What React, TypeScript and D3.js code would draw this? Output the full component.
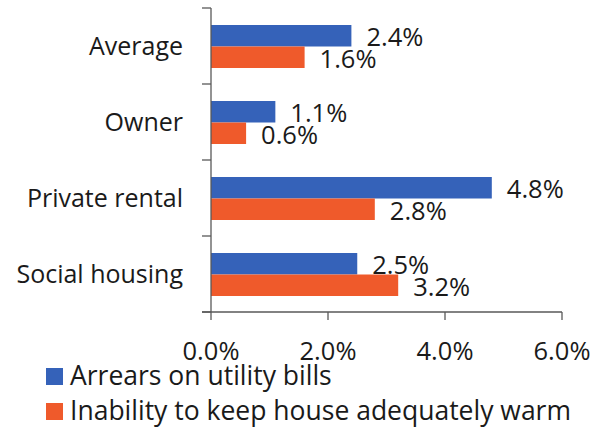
import React from "react";
import * as d3 from "d3";

const categories = ["Average", "Owner", "Private rental", "Social housing"];
const arrears = [2.4, 1.1, 4.8, 2.5];
const warmth = [1.6, 0.6, 2.8, 3.2];
const xTicks = [0, 2, 4, 6];
const seriesNames = ["Arrears on utility bills", "Inability to keep house adequately warm"];
const seriesColors = ["#3562B9", "#EF5A2B"];

const W = 598;
const H = 430;
const FONT = "'Open Sans', sans-serif";

export default function App() {
  const x = d3.scaleLinear().domain([0, 6]).range([211, 562]);
  const y = d3.scaleBand<string>().domain(categories).range([8, 312]).padding(0);
  const inner = d3.scaleBand<number>().domain([0, 1]).range([17, 60]).padding(0);
  const series = [arrears, warmth];
  const fmt = (v: number) => v.toFixed(1) + "%";
  const axisColor = "#595959";

  const bounds = [...categories.map((c) => y(c) as number), y.range()[1]];

  return (
    <svg
      width={W}
      height={H}
      style={{ position: "absolute", left: 0, top: 0, background: "#fff" }}
      fontFamily={FONT}
    >
      {/* bars */}
      {series.map((vals, si) =>
        vals.map((v, i) => (
          <rect
            key={`b${si}-${i}`}
            x={x(0)}
            y={(y(categories[i]) as number) + (inner(si) as number)}
            width={x(v) - x(0)}
            height={inner.bandwidth()}
            fill={seriesColors[si]}
          />
        ))
      )}
      {/* value labels */}
      {series.map((vals, si) =>
        vals.map((v, i) => (
          <text
            key={`l${si}-${i}`}
            x={x(v) + 15}
            y={(y(categories[i]) as number) + (inner(si) as number) + inner.bandwidth() / 2 + 10.5}
            fontSize={25.5}
            fill="#1a1a1a"
          >
            {fmt(v)}
          </text>
        ))
      )}
      {/* y axis */}
      <line x1={x(0)} x2={x(0)} y1={y.range()[0]} y2={y.range()[1]} stroke={axisColor} strokeWidth={1.3} />
      {bounds.map((b, i) => (
        <line key={`yt${i}`} x1={x(0) - 9} x2={x(0)} y1={b} y2={b} stroke={axisColor} strokeWidth={1.3} />
      ))}
      {categories.map((c) => (
        <text
          key={`c${c}`}
          x={183}
          y={(y(c) as number) + y.bandwidth() / 2 + 9}
          textAnchor="end"
          fontSize={25}
          fill="#1a1a1a"
        >
          {c}
        </text>
      ))}
      {/* x axis */}
      <line x1={x(0) - 9} x2={x(6)} y1={312} y2={312} stroke={axisColor} strokeWidth={1.3} />
      {xTicks.map((t) => (
        <g key={`xt${t}`}>
          <line x1={x(t)} x2={x(t)} y1={312} y2={320} stroke={axisColor} strokeWidth={1.3} />
          <text x={x(t)} y={360} textAnchor="middle" fontSize={25.5} fill="#1a1a1a">
            {fmt(t)}
          </text>
        </g>
      ))}
      {/* legend */}
      {seriesNames.map((n, i) => (
        <g key={`lg${i}`} transform={`translate(46, ${368 + i * 35})`}>
          <rect x={0} y={0} width={17} height={17} fill={seriesColors[i]} />
          <text x={24} y={16.5} fontSize={26.5} fill="#1a1a1a">
            {n}
          </text>
        </g>
      ))}
    </svg>
  );
}
